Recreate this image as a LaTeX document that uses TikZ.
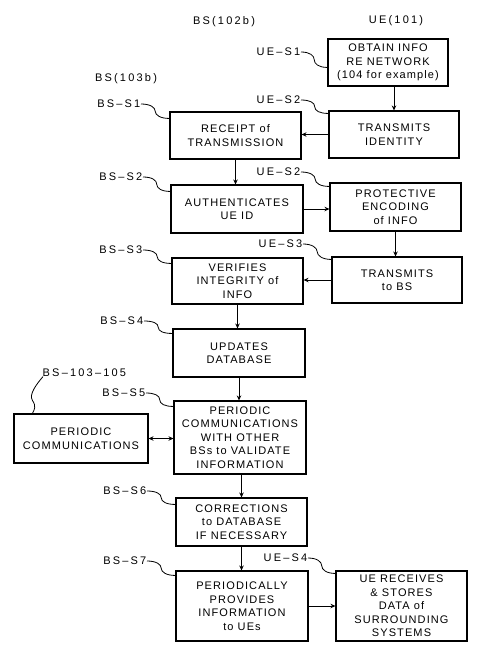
\documentclass[tikz,border=0pt]{standalone}
\usepackage{fontspec}
\setmainfont{Liberation Sans}
\newfontfamily\boxfont[LetterSpace=10]{Liberation Sans}
\newfontfamily\lblfont[LetterSpace=20]{Liberation Sans}
\usetikzlibrary{arrows.meta,calc}
\newcommand\leadto[2]{\draw[leader] (#1.east) .. controls +(9,0) and +(0,-4) .. ($(#1.east)!0.5!(#2)$) .. controls +(0,4) and +(-9,0) .. (#2);}
\begin{document}
\begin{tikzpicture}[x=1pt,y=-1pt,
  box/.style={draw, line width=1.1pt, align=center, inner sep=0pt, font=\boxfont\fontsize{11}{13.5}\selectfont},
  lbl/.style={inner sep=0.5pt, font=\lblfont\fontsize{11}{13}\selectfont},
  arr/.style={line width=0.8pt, -{Stealth[length=5pt,width=4.5pt]}},
  darr/.style={line width=0.8pt, {Stealth[length=5pt,width=4.5pt]}-{Stealth[length=5pt,width=4.5pt]}},
  leader/.style={line width=0.8pt}]
\fill[white] (0,0) rectangle (500,664);
\useasboundingbox (0,0) rectangle (500,664);

% headings
\node[lbl] (h1) at (224,22) {BS(102b)};
\node[lbl] (h2) at (396,21) {UE(101)};
\node[lbl] (h3) at (126,79) {BS(103b)};

% UE column
\node[box,minimum width=120pt,minimum height=47pt] (ue1) at (388,62.5) {OBTAIN INFO\\RE NETWORK\\(104 for example)};
\node[box,minimum width=130pt,minimum height=47pt] (ue2) at (394,134.5) {TRANSMITS\\IDENTITY};
\node[box,minimum width=131pt,minimum height=48pt] (ue3) at (395.5,207) {PROTECTIVE\\ENCODING\\of INFO};
\node[box,minimum width=130pt,minimum height=46pt] (ue4) at (397,280) {TRANSMITS\\to BS};
\node[box,minimum width=131pt,minimum height=70pt] (ue5) at (401.5,606) {UE RECEIVES\\\& STORES\\DATA of\\SURROUNDING\\SYSTEMS};

% BS column
\node[box,minimum width=131pt,minimum height=47pt] (bs1) at (235.5,135.5) {RECEIPT of\\TRANSMISSION};
\node[box,minimum width=132pt,minimum height=48pt] (bs2) at (237,209) {AUTHENTICATES\\UE ID};
\node[box,minimum width=131pt,minimum height=46pt] (bs3) at (237.5,281) {VERIFIES\\INTEGRITY of\\INFO};
\node[box,minimum width=132pt,minimum height=48pt] (bs4) at (239,353) {UPDATES\\DATABASE};
\node[box,minimum width=132pt,minimum height=73pt] (bs5) at (240,437.5) {PERIODIC\\COMMUNICATIONS\\WITH OTHER\\BSs to VALIDATE\\INFORMATION};
\node[box,minimum width=134pt,minimum height=49pt] (pc) at (81,438.5) {PERIODIC\\COMMUNICATIONS};
\node[box,minimum width=131pt,minimum height=48pt] (bs6) at (241.5,522) {CORRECTIONS\\to DATABASE\\IF NECESSARY};
\node[box,minimum width=132pt,minimum height=70pt] (bs7) at (242,606) {PERIODICALLY\\PROVIDES\\INFORMATION\\to UEs};

% step labels
\node[lbl,anchor=east] (lue1) at (301,52) {UE–S1};
\node[lbl,anchor=east] (lue2) at (301,100) {UE–S2};
\node[lbl,anchor=east] (lbs1) at (141,104) {BS–S1};
\node[lbl,anchor=east] (lbs2) at (143,177) {BS–S2};
\node[lbl,anchor=east] (lue2b) at (301,172) {UE–S2};
\node[lbl,anchor=east] (lbs3) at (143,250) {BS–S3};
\node[lbl,anchor=east] (lue3) at (303,244) {UE–S3};
\node[lbl,anchor=east] (lbs4) at (144,321) {BS–S4};
\node[lbl,anchor=west] (l103) at (42,373) {BS–103–105};
\node[lbl,anchor=east] (lbs5) at (146,393) {BS–S5};
\node[lbl,anchor=east] (lbs6) at (147,491) {BS–S6};
\node[lbl,anchor=east] (lbs7) at (147,561) {BS–S7};
\node[lbl,anchor=east] (lue4) at (308,558) {UE–S4};

% leader targets
\coordinate (tue1) at ($(ue1.north west)+(0,29)$);
\coordinate (tue2) at ($(ue2.north west)+(0,3)$);
\coordinate (tbs1) at ($(bs1.north west)+(0,7)$);
\coordinate (tbs2) at ($(bs2.north west)+(0,7)$);
\coordinate (tue2b) at ($(ue3.north west)+(0,4)$);
\coordinate (tbs3) at ($(bs3.north west)+(0,6)$);
\coordinate (tue3) at ($(ue4.north west)+(0,3)$);
\coordinate (tbs4) at ($(bs4.north west)+(0,5)$);
\coordinate (tbs5) at ($(bs5.north west)+(0,6)$);
\coordinate (tbs6) at ($(bs6.north west)+(0,7)$);
\coordinate (tbs7) at ($(bs7.north west)+(0,5)$);
\coordinate (tue4) at ($(ue5.north west)+(0,3)$);
\coordinate (tpc) at ($(pc.north west)+(19,0)$);

\leadto{lue1}{tue1}
\leadto{lue2}{tue2}
\leadto{lbs1}{tbs1}
\leadto{lbs2}{tbs2}
\leadto{lue2b}{tue2b}
\leadto{lbs3}{tbs3}
\leadto{lue3}{tue3}
\leadto{lbs4}{tbs4}
\leadto{lbs5}{tbs5}
\leadto{lbs6}{tbs6}
\leadto{lbs7}{tbs7}
\leadto{lue4}{tue4}
\draw[leader] ($(l103.south west)+(1,-1)$) .. controls +(-6,7) and +(-4,-6) .. ($(tpc)+(0,-13)$) .. controls +(4,6) and +(2,-4) .. (tpc);

% flow arrows
\draw[arr] (ue1.south -| ue2.north) -- (ue2.north);
\draw[arr] (ue2.west) -- (ue2.west -| bs1.east);
\draw[arr] (bs1.south) -- (bs1.south |- bs2.north);
\draw[arr] (bs2.east) -- (bs2.east -| ue3.west);
\draw[arr] (ue3.south) -- (ue3.south |- ue4.north);
\draw[arr] (ue4.west) -- (ue4.west -| bs3.east);
\draw[arr] (bs3.south) -- (bs3.south |- bs4.north);
\draw[arr] (bs4.south) -- (bs4.south |- bs5.north);
\draw[darr] (pc.east) -- (pc.east -| bs5.west);
\draw[arr] (bs5.south -| bs6.north) -- (bs6.north);
\draw[arr] (bs6.south) -- (bs6.south |- bs7.north);
\draw[arr] (bs7.east) -- (bs7.east -| ue5.west);
\end{tikzpicture}
\end{document}
